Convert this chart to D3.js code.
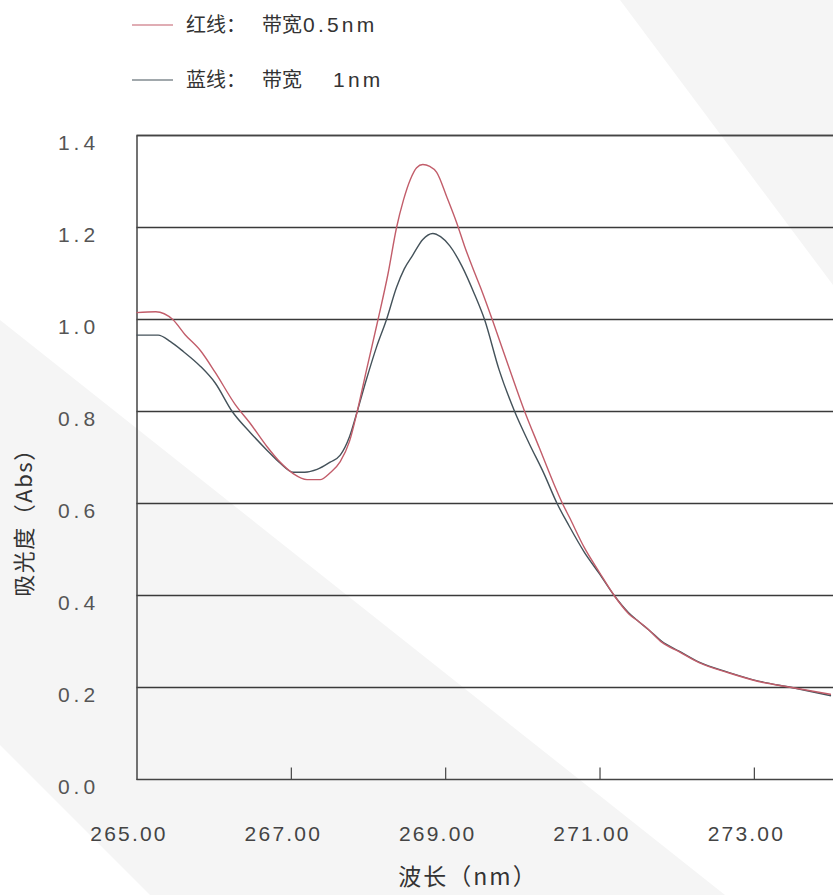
<!DOCTYPE html>
<html>
<head>
<meta charset="utf-8">
<script src="https://cdn.jsdelivr.net/npm/d3@7/dist/d3.min.js"></script>
<style>
  html, body { margin: 0; padding: 0; background: #fff; }
  svg { display: block; }
  text { font-family: "Noto Sans CJK SC", "Noto Sans", sans-serif; }
</style>
</head>
<body>
<svg id="chart" width="833" height="895"></svg>
<script>
// ---- data (wavelength nm, absorbance) ----
const redWavelength = [265.00,265.25,265.47,265.63,265.83,266.02,266.28,266.47,266.69,266.86,267.03,267.21,267.38,267.51,267.64,267.76,267.86,267.98,268.13,268.26,268.37,268.46,268.55,268.63,268.71,268.80,268.89,269.02,269.15,269.25,269.35,269.48,269.61,269.83,270.03,270.22,270.41,270.52,270.61,270.80,271.00,271.19,271.38,271.51,271.64,271.81,272.03,272.29,272.67,273.06,273.49,274.00];
const redAbs = [1.015,1.017,1.000,0.967,0.932,0.885,0.815,0.775,0.724,0.690,0.665,0.652,0.652,0.667,0.691,0.735,0.800,0.890,1.000,1.100,1.200,1.260,1.305,1.330,1.337,1.333,1.320,1.267,1.210,1.160,1.115,1.060,1.000,0.894,0.800,0.721,0.642,0.600,0.570,0.505,0.450,0.400,0.360,0.343,0.325,0.298,0.278,0.254,0.232,0.213,0.200,0.185];
const blueWavelength = [265.00,265.28,265.44,265.61,265.83,266.02,266.24,266.47,266.69,266.86,267.03,267.18,267.34,267.51,267.64,267.76,267.86,267.98,268.11,268.24,268.37,268.47,268.58,268.71,268.84,268.94,269.06,269.22,269.38,269.51,269.70,269.90,270.09,270.28,270.45,270.61,270.80,271.00,271.19,271.38,271.51,271.64,271.81,272.03,272.29,272.67,273.06,273.49,274.00];
const blueAbs = [0.966,0.966,0.952,0.930,0.898,0.862,0.800,0.755,0.716,0.688,0.668,0.668,0.674,0.690,0.705,0.745,0.800,0.870,0.940,1.000,1.070,1.110,1.140,1.174,1.187,1.180,1.160,1.115,1.055,1.000,0.890,0.800,0.730,0.665,0.600,0.550,0.495,0.447,0.400,0.362,0.343,0.325,0.300,0.279,0.255,0.233,0.214,0.200,0.182];
const xTicks = [265, 267, 269, 271, 273];
const yTicks = [0.0, 0.2, 0.4, 0.6, 0.8, 1.0, 1.2, 1.4];
// legend: [prefix, bandwidth word, value]
const legendPrefix = ["红线：", "蓝线："];
const legendWord = ["带宽", "带宽"];
const legendValue = ["0.5nm", "1nm"];
const xTitle = "波长（nm）";
const yTitle = "吸光度（Abs）";

const redColor = "#c25d6a";
const blueColor = "#44525a";

const svg = d3.select("#chart");
const plotLeft = 136.5, plotTop = 135.5, plotBottom = 779.5;
const x = d3.scaleLinear().domain([265, 275]).range([plotLeft, plotLeft + 771.7]);
const y = d3.scaleLinear().domain([0, 1.4]).range([plotBottom, plotTop]);

// faint watermark bands
svg.append("path")
  .attr("d", "M0,320 L0,745 L150,895 L725,895 Z")
  .attr("fill", "#f5f5f5");
svg.append("path")
  .attr("d", "M620,0 L833,0 L833,285 Z")
  .attr("fill", "#f5f5f5");

// grid lines
svg.append("g").selectAll("line").data(yTicks.filter(v => v > 0)).join("line")
  .attr("x1", plotLeft).attr("x2", 833)
  .attr("y1", d => y(d)).attr("y2", d => y(d))
  .attr("stroke", "#3a3a3a").attr("stroke-width", 1.3);

const numFont = "'Liberation Sans', Arial, sans-serif";

// x axis
const xAxis = d3.axisBottom(x).tickValues(xTicks).tickSize(-12).tickPadding(0)
  .tickFormat(d3.format(".2f"));
const gx = svg.append("g").attr("transform", `translate(0,${plotBottom})`).call(xAxis);
gx.select(".domain").attr("d", `M${plotLeft},0H833`).attr("stroke", "#444").attr("stroke-width", 1.5);
gx.selectAll(".tick line").attr("stroke", "#444").attr("stroke-width", 1.2)
  .filter(d => d === 265).remove();
gx.selectAll(".tick text").attr("y", 61).attr("dy", null).attr("dx", -8)
  .attr("font-size", 21).attr("fill", "#444").attr("letter-spacing", 2.2)
  .style("font-family", numFont);

// y axis
const yAxis = d3.axisLeft(y).tickValues(yTicks).tickSize(0).tickPadding(0)
  .tickFormat(d3.format(".1f"));
const gy = svg.append("g").attr("transform", `translate(${plotLeft},0)`).call(yAxis);
gy.select(".domain").attr("stroke", "#444").attr("stroke-width", 1.5);
gy.selectAll(".tick text").attr("text-anchor", "middle").attr("x", -58).attr("dy", null).attr("y", 14)
  .attr("font-size", 21).attr("fill", "#555").attr("letter-spacing", 4)
  .style("font-family", numFont);

// curves
const line = d3.line().x(d => x(d[0])).y(d => y(d[1])).curve(d3.curveMonotoneX);
svg.append("path").datum(d3.zip(blueWavelength, blueAbs))
  .attr("d", line).attr("fill", "none").attr("stroke", blueColor).attr("stroke-width", 1.4);
svg.append("path").datum(d3.zip(redWavelength, redAbs))
  .attr("d", line).attr("fill", "none").attr("stroke", redColor).attr("stroke-width", 1.4);

// legend
const legendColors = [redColor, blueColor];
const valueX = [303, 333];
const lg = svg.append("g");
legendPrefix.forEach((pre, i) => {
  const ly = 25 + i * 55;
  lg.append("line").attr("x1", 132).attr("x2", 173).attr("y1", ly).attr("y2", ly)
    .attr("stroke", legendColors[i]).attr("stroke-width", 1.2);
  const t = lg.append("text").attr("y", ly).attr("dy", "0.36em")
    .attr("font-size", 20).attr("fill", "#333");
  t.append("tspan").attr("x", 186).text(pre);
  t.append("tspan").attr("x", 262).text(legendWord[i]);
  t.append("tspan").attr("x", valueX[i]).attr("letter-spacing", 3.2).attr("font-size", 21)
    .style("font-family", numFont).text(legendValue[i]);
});

// axis titles
svg.append("text").attr("x", 468).attr("y", 885)
  .attr("text-anchor", "middle").attr("font-size", 23).attr("letter-spacing", 2)
  .attr("fill", "#333").text(xTitle);
svg.append("text").attr("transform", "translate(24,517) rotate(-90)").attr("dy", "0.36em")
  .attr("text-anchor", "middle").attr("font-size", 22).attr("letter-spacing", 1.5)
  .attr("fill", "#333").text(yTitle);

// top border
svg.append("line").attr("x1", plotLeft).attr("x2", 833).attr("y1", plotTop).attr("y2", plotTop)
  .attr("stroke", "#444").attr("stroke-width", 1.5);
</script>
</body>
</html>
